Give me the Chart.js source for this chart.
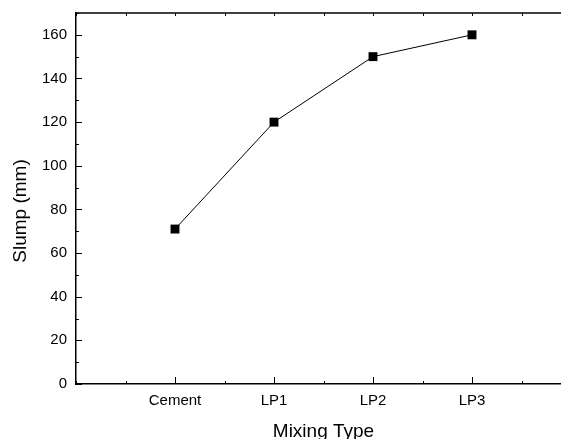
<!DOCTYPE html>
<html>
<head>
<meta charset="utf-8">
<script src="https://cdn.jsdelivr.net/npm/chart.js@4/dist/chart.umd.min.js"></script>
<style>
html, body { margin: 0; padding: 0; background: #fff; overflow: hidden; }
#wrap { width: 561px; height: 439px; overflow: hidden; position: relative; }
#box { position: absolute; left: 0; top: 0; width: 600px; height: 439px; }
</style>
</head>
<body>
<div id="wrap"><div id="box"><canvas id="myChart"></canvas></div></div>
<script>
var categories = ['Cement', 'LP1', 'LP2', 'LP3'];
var slump = [71, 120, 150, 160];
var yTicks = [0, 20, 40, 60, 80, 100, 120, 140, 160];
var xTitle = 'Mixing Type';
var yTitle = 'Slump (mm)';

var points = slump.map(function(v, i) {
    return { x: i, y: v };
});

// ticks drawn inward, plus top frame line and the axis titles
var framePlugin = {
    id: 'frame',
    afterDraw: function(chart) {
        var ctx = chart.ctx;
        var a = chart.chartArea;
        var xs = chart.scales.x;
        var ys = chart.scales.y;
        ctx.save();
        ctx.strokeStyle = '#000';
        ctx.lineWidth = 1.5;
        ctx.beginPath();
        ctx.moveTo(a.left, a.top);
        ctx.lineTo(a.right, a.top);
        ctx.stroke();
        ctx.lineWidth = 1;
        ctx.beginPath();
        for (var v = 0; v <= 170; v += 10) {
            var py = Math.round(ys.getPixelForValue(v)) + 0.5;
            var len = v % 20 === 0 ? 6 : 3;
            ctx.moveTo(a.left, py);
            ctx.lineTo(a.left + len, py);
        }
        for (var k = -1; k <= 4; k += 0.5) {
            var px = Math.round(xs.getPixelForValue(k)) + 0.5;
            var major = k >= 0 && k <= 3 && k % 1 === 0;
            var l = major ? 7 : 3;
            ctx.moveTo(px, a.bottom);
            ctx.lineTo(px, a.bottom - l);
            ctx.moveTo(px, a.top);
            ctx.lineTo(px, a.top + 3);
        }
        ctx.stroke();
        ctx.fillStyle = '#000';
        ctx.font = '19px "Liberation Sans", Arial, sans-serif';
        ctx.textAlign = 'center';
        ctx.textBaseline = 'alphabetic';
        ctx.fillText(xTitle, (a.left + a.right) / 2, 437);
        ctx.translate(26, 211);
        ctx.rotate(-Math.PI / 2);
        ctx.fillText(yTitle, 0, 0);
        ctx.restore();
    }
};

var context = document.getElementById('myChart').getContext('2d');
var myLineChart = new Chart(context, {
    type: 'scatter',
    data: {
        datasets: [{
            data: points,
            showLine: true,
            borderColor: '#000',
            backgroundColor: '#000',
            borderWidth: 1,
            pointStyle: 'rect',
            pointRadius: 6.3,
            pointHoverRadius: 6.3,
            pointBorderWidth: 0
        }]
    },
    options: {
        responsive: true,
        maintainAspectRatio: false,
        animation: false,
        layout: { padding: { top: 13, right: 29, left: 0, bottom: 0 } },
        plugins: {
            legend: { display: false },
            tooltip: { enabled: false }
        },
        scales: {
            x: {
                type: 'linear',
                min: -1,
                max: 4,
                grid: { display: false, drawTicks: false },
                border: { display: true, color: '#000', width: 1.5 },
                afterBuildTicks: function(scale) {
                    scale.ticks = categories.map(function(c, i) { return { value: i }; });
                },
                afterFit: function(scale) {
                    scale.height = 55;
                    scale.paddingLeft = 0;
                    scale.paddingRight = 0;
                },
                ticks: {
                    color: '#000',
                    padding: 8,
                    font: { family: '"Liberation Sans", Arial, sans-serif', size: 15 },
                    callback: function(v) { return categories[v]; }
                }
            },
            y: {
                min: 0,
                max: 170,
                grid: { display: false, drawTicks: false },
                border: { display: true, color: '#000', width: 1.5 },
                afterBuildTicks: function(scale) {
                    scale.ticks = yTicks.map(function(v) { return { value: v }; });
                },
                afterFit: function(scale) {
                    scale.width = 76;
                    scale.paddingTop = 0;
                    scale.paddingBottom = 0;
                },
                ticks: {
                    color: '#000',
                    padding: 9,
                    font: { family: '"Liberation Sans", Arial, sans-serif', size: 15 }
                }
            }
        }
    },
    plugins: [framePlugin]
});
</script>
</body>
</html>
